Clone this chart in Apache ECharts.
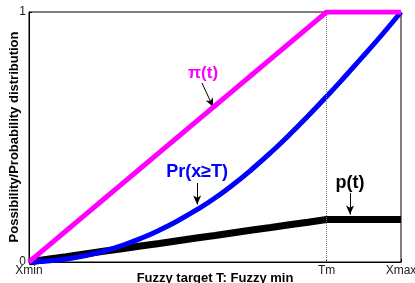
<!DOCTYPE html>
<html>
<head>
<meta charset="utf-8">
<script src="https://cdn.jsdelivr.net/npm/echarts@6/dist/echarts.min.js"></script>
<style>
  html, body { margin: 0; padding: 0; background: #fff; }
  #chart { width: 415px; height: 283px; }
</style>
</head>
<body>
<div id="chart"></div>
<script>
    // t runs from Xmin (0) to Xmax (1), Tm sits at 0.8
    var tValues = [0, 0.05, 0.1, 0.15, 0.2, 0.25, 0.3, 0.35, 0.4, 0.45, 0.5,
                   0.55, 0.6, 0.65, 0.7, 0.75, 0.8, 0.85, 0.9, 0.95, 1];
    var possibility = [0, 0.0625, 0.125, 0.1875, 0.25, 0.3125, 0.375, 0.4375, 0.5, 0.5625, 0.625,
                       0.6875, 0.75, 0.8125, 0.875, 0.9375, 1, 1, 1, 1, 1];
    var probGreater = [0, 0.004, 0.012, 0.025, 0.043, 0.066, 0.094, 0.127, 0.165, 0.208, 0.256,
                       0.311, 0.372, 0.438, 0.509, 0.584, 0.662, 0.743, 0.826, 0.911, 1];
    var pDensity = [0, 0.011, 0.021, 0.032, 0.043, 0.053, 0.064, 0.074, 0.085, 0.096, 0.106,
                    0.117, 0.128, 0.138, 0.149, 0.159, 0.17, 0.17, 0.17, 0.17, 0.17];
    var xTickValues = [0, 0.8, 1];
    var xTickNames = ['Xmin', 'Tm', 'Xmax'];

    function pairs(ys) {
        return tValues.map(function (t, i) { return [t, ys[i]]; });
    }

    var font = 'Liberation Sans, Arial, sans-serif';
    var myChart = echarts.init(document.getElementById('chart'));

    var option = {
        animation: false,
        textStyle: { fontFamily: font },
        grid: {
            left: 29, right: 14, top: 12, bottom: 21,
            outerBoundsMode: 'none',
            containLabel: false,
            show: true, borderColor: '#000', borderWidth: 1
        },
        xAxis: {
            type: 'value',
            min: 0, max: 1,
            name: 'Fuzzy target T: Fuzzy min',
            nameLocation: 'middle',
            nameMoveOverlap: false,
            nameGap: 10,
            nameTextStyle: { fontFamily: font, fontWeight: 'bold', fontSize: 13, color: '#000' },
            axisLine: { lineStyle: { color: '#000' } },
            axisTick: { inside: true, length: 3, customValues: xTickValues, lineStyle: { color: '#000' } },
            axisLabel: {
                customValues: xTickValues,
                margin: 3,
                fontSize: 12,
                color: '#222',
                formatter: function (v) {
                    var i = xTickValues.indexOf(v);
                    return i >= 0 ? xTickNames[i] : '';
                }
            },
            splitLine: { show: false }
        },
        yAxis: {
            type: 'value',
            min: 0, max: 1, interval: 1,
            name: 'Possibility/Probability distribution',
            nameLocation: 'middle',
            nameMoveOverlap: false,
            nameGap: 8,
            nameTextStyle: { fontFamily: font, fontWeight: 'bold', fontSize: 13, color: '#000' },
            axisLine: { lineStyle: { color: '#000' } },
            axisTick: { inside: true, length: 3, lineStyle: { color: '#000' } },
            axisLabel: { margin: 3, fontSize: 12, color: '#222' },
            splitLine: { show: false }
        },
        series: [
            {
                name: 'p(t)',
                type: 'line',
                data: pairs(pDensity),
                symbol: 'none',
                lineStyle: { color: '#000', width: 7 },
                z: 3,
                markLine: {
                    silent: true,
                    symbol: 'none',
                    label: { show: false },
                    lineStyle: { color: '#777', type: 'dotted', width: 1 },
                    data: [{ xAxis: 0.8 }]
                }
            },
            {
                name: 'Pr(x≥T)',
                type: 'line',
                data: pairs(probGreater),
                smooth: true,
                symbol: 'none',
                lineStyle: { color: '#0000ff', width: 5 },
                z: 4
            },
            {
                name: 'π(t)',
                type: 'line',
                data: pairs(possibility),
                symbol: 'none',
                lineStyle: { color: '#ff00ff', width: 5 },
                z: 5
            },
            {
                // annotations: labels and arrows
                name: 'notes',
                type: 'line',
                data: [],
                z: 6,
                markLine: {
                    silent: true,
                    symbol: ['none', 'arrow'],
                    symbolSize: [6, 9],
                    label: { show: false },
                    lineStyle: { color: '#000', type: 'solid', width: 1 },
                    data: [
                        [{ coord: [0.465, 0.716] }, { coord: [0.495, 0.62] }],
                        [{ coord: [0.452, 0.316] }, { coord: [0.452, 0.23] }],
                        [{ coord: [0.863, 0.276] }, { coord: [0.863, 0.19] }]
                    ]
                },
                markPoint: {
                    silent: true,
                    symbol: 'circle',
                    symbolSize: 0,
                    label: {
                        show: true,
                        position: 'inside',
                        fontFamily: font,
                        fontWeight: 'bold',
                        fontSize: 18
                    },
                    data: [
                        { coord: [0.468, 0.756], value: 'π(t)', label: { formatter: 'π(t)', color: '#ff00ff', fontSize: 17 } },
                        { coord: [0.452, 0.36], value: 'Pr(x≥T)', label: { formatter: 'Pr(x≥T)', color: '#0000ff' } },
                        { coord: [0.863, 0.316], value: 'p(t)', label: { formatter: 'p(t)', color: '#000' } }
                    ]
                }
            }
        ]
    };
    myChart.setOption(option);
</script>
</body>
</html>
